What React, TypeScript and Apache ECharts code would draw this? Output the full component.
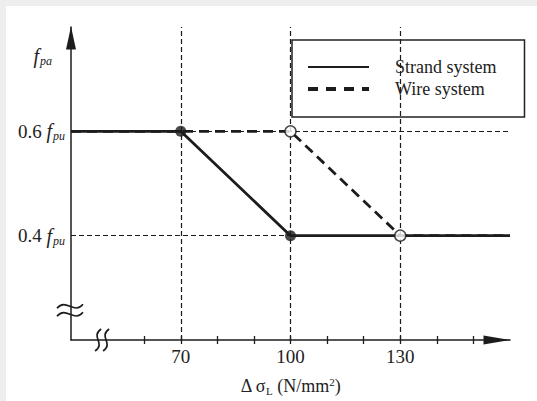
import React, { useEffect, useRef } from "react";
import * as echarts from "echarts";

const strandName = "Strand system";
const wireName = "Wire system";
const strandData: [number, number][] = [[40, 0.6], [70, 0.6], [100, 0.4], [160, 0.4]];
const wireData: [number, number][] = [[40, 0.6], [100, 0.6], [130, 0.4], [160, 0.4]];
const filledPoints: [number, number][] = [[70, 0.6], [100, 0.4]];
const openPoints: [number, number][] = [[100, 0.6], [130, 0.4]];
const vRefX = [70, 100, 130];
const hRefY = [0.6, 0.4];
const xTickValues = [60, 70, 80, 90, 100, 110, 120, 130, 140, 150];
const xLabelValues = [70, 100, 130];
const yLabelValues = [0.4, 0.6];
const xRange = [40, 160];
const yRange = [0.2, 0.8];
const yBreakAt: [number, number] = [40, 0.257];
const xBreakAt: [number, number] = [48.5, 0.2];

const INK = "#1c1c1c";
const SERIF = "'Liberation Serif', 'Times New Roman', serif";

export default function App() {
  const ref = useRef<HTMLDivElement>(null);
  useEffect(() => {
    if (!ref.current) return;
    const chart = echarts.init(ref.current, undefined, { renderer: "svg" });
    const refLines: any[] = [];
    vRefX.forEach((x) => refLines.push([{ coord: [x, yRange[0]] }, { coord: [x, yRange[1]] }]));
    hRefY.forEach((y) => refLines.push([{ coord: [xRange[0], y] }, { coord: [xRange[1], y] }]));

    const xAxisBase = {
      type: "value",
      min: xRange[0],
      max: xRange[1],
      interval: 10,
      position: "bottom",
      splitLine: { show: false },
    };

    chart.setOption({
      animation: false,
      grid: { left: 65, top: 21, right: 27, bottom: 58, containLabel: false },
      legend: {
        data: [
          { name: strandName, lineStyle: { color: INK, width: 2, type: "solid" } },
          { name: wireName, lineStyle: { color: INK, width: 4, type: [10, 8] } },
        ],
        orient: "vertical",
        left: 286,
        top: 34,
        padding: [18, 28, 19, 14],
        borderColor: "#222",
        borderWidth: 1.5,
        backgroundColor: "#fff",
        itemWidth: 61,
        itemHeight: 18,
        itemGap: 4,
        itemStyle: { opacity: 0 },
        textStyle: { fontFamily: SERIF, fontSize: 18, color: "#222", padding: [0, 0, 0, 21] },
      },
      xAxis: [
        {
          ...xAxisBase,
          axisLine: {
            show: true,
            symbol: ["none", "triangle"],
            symbolSize: [9, 27],
            symbolOffset: [0, -13],
            lineStyle: { color: INK, width: 1.5 },
          },
          axisTick: { show: true, customValues: xTickValues, length: 4, lineStyle: { color: INK, width: 1.3 } },
          axisLabel: {
            customValues: xLabelValues,
            fontFamily: SERIF,
            fontSize: 19,
            color: "#222",
            margin: 7,
          },
          name: "{d|Δ σ}{sub|L}{d| (N/mm}{sup|2}{d|)}",
          nameLocation: "middle",
          nameGap: 36,
          nameTextStyle: {
            rich: {
              d: { fontFamily: SERIF, fontSize: 18, color: "#222" },
              sub: { fontFamily: SERIF, fontSize: 11, color: "#222", padding: [9, 0, 0, 0] },
              sup: { fontFamily: SERIF, fontSize: 11, color: "#222", padding: [0, 0, 9, 0] },
            },
          },
        },
        {
          ...xAxisBase,
          axisLine: { show: false },
          axisTick: { show: true, inside: true, customValues: xTickValues, length: 4, lineStyle: { color: INK, width: 1.3 } },
          axisLabel: { show: false },
        },
      ],
      yAxis: {
        type: "value",
        min: yRange[0],
        max: yRange[1],
        interval: 0.2,
        splitLine: { show: false },
        axisLine: {
          show: true,
          symbol: ["none", "triangle"],
          symbolSize: [10, 23],
          symbolOffset: [0, -11],
          lineStyle: { color: INK, width: 1.5 },
        },
        axisTick: { show: false },
        axisLabel: {
          customValues: yLabelValues,
          margin: 6,
          formatter: (v: number) => `{n|${v.toFixed(1)} }{f|f}{s|pu}`,
          rich: {
            n: { fontFamily: SERIF, fontSize: 19, color: "#222" },
            f: { fontFamily: SERIF, fontSize: 20, fontStyle: "italic", color: "#222" },
            s: { fontFamily: SERIF, fontSize: 12, fontStyle: "italic", color: "#222", padding: [10, 0, 0, 1] },
          },
        },
        name: "{f|f}{s|pa}",
        nameLocation: "end",
        nameGap: -40,
        nameTextStyle: {
          align: "right",
          padding: [0, 19, 0, 0],
          rich: {
            f: { fontFamily: SERIF, fontSize: 20, fontStyle: "italic", color: "#222" },
            s: { fontFamily: SERIF, fontSize: 12, fontStyle: "italic", color: "#222", padding: [10, 0, 0, 1] },
          },
        },
      },
      series: [
        {
          name: "refs",
          type: "line",
          data: [],
          silent: true,
          markLine: {
            silent: true,
            symbol: ["none", "none"],
            label: { show: false },
            lineStyle: { type: [5, 3], color: INK, width: 1.2 },
            data: refLines,
          },
          z: 1,
        },
        {
          name: wireName,
          type: "line",
          data: wireData,
          symbol: "none",
          lineStyle: { color: INK, width: 2.8, type: [10, 6] },
          itemStyle: { color: INK },
          z: 2,
        },
        {
          name: strandName,
          type: "line",
          data: strandData,
          symbol: "none",
          lineStyle: { color: INK, width: 2.8 },
          itemStyle: { color: INK },
          z: 3,
        },
        {
          name: "filled",
          type: "scatter",
          data: filledPoints,
          symbol: "circle",
          symbolSize: 11,
          itemStyle: { color: INK },
          z: 5,
        },
        {
          name: "open",
          type: "scatter",
          data: openPoints,
          symbol: "circle",
          symbolSize: 11,
          itemStyle: { color: "#fff", borderColor: INK, borderWidth: 1.5 },
          z: 5,
        },
      ],
    });

    const yb = chart.convertToPixel({ gridIndex: 0 }, yBreakAt) as number[];
    const xb = chart.convertToPixel({ gridIndex: 0 }, xBreakAt) as number[];
    const breakStyle = { stroke: INK, lineWidth: 1.7, fill: "none" };
    const graphics: any[] = [];
    [-4, 4].forEach((dy) => {
      const cx = yb[0] - 1;
      const cy = yb[1] + dy;
      graphics.push({
        type: "bezierCurve",
        shape: { x1: cx - 13, y1: cy + 2, x2: cx + 13, y2: cy - 2, cpx1: cx - 4, cpy1: cy - 9, cpx2: cx + 4, cpy2: cy + 9 },
        style: breakStyle,
        z: 10,
      });
    });
    [-4, 4].forEach((dx) => {
      const x = xb[0] + dx;
      const cy = xb[1];
      graphics.push({
        type: "bezierCurve",
        shape: { x1: x + 3, y1: cy - 11, x2: x - 3, y2: cy + 11, cpx1: x - 8, cpy1: cy - 3, cpx2: x + 8, cpy2: cy + 3 },
        style: breakStyle,
        z: 10,
      });
    });
    chart.setOption({ graphic: graphics });

    return () => chart.dispose();
  }, []);

  return (
    <div style={{ position: "fixed", left: 0, top: 0, width: 537, height: 401, background: "#eeeeee" }}>
      <div ref={ref} style={{ position: "absolute", left: 6, top: 6, width: 531, height: 395, background: "#ffffff" }} />
    </div>
  );
}
